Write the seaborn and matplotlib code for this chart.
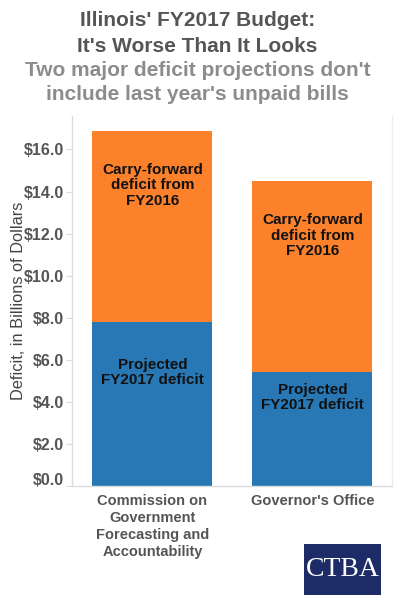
import seaborn as sns
import matplotlib.pyplot as plt
import matplotlib.transforms as mtransforms
import pandas as pd
from matplotlib.patches import Rectangle

sns.set_style("white")
plt.rcParams['font.family'] = ['Liberation Sans', 'DejaVu Sans']

# values in billions of dollars
sources = ["Commission on\nGovernment\nForecasting and\nAccountability", "Governor's Office"]
projected = [7.8, 5.4]
carry_forward = [9.1, 9.1]
y_ticks = [0, 2, 4, 6, 8, 10, 12, 14, 16]

BLUE = "#2778b5"
ORANGE = "#fd812b"
DARK = "#555555"
LIGHT = "#8c8c8c"
AXIS = "#dcdcdc"

df = pd.DataFrame({"source": sources, "projected": projected, "carry": carry_forward})
df["total"] = df["projected"] + df["carry"]

fig = plt.figure(figsize=(3.95, 6), dpi=100)
ax = fig.add_axes([0.1835, 0.19, 0.81, 0.617])

# stacked bars: full total in orange, projected part drawn over it in blue
sns.barplot(data=df, x="source", y="total", color=ORANGE, width=0.75,
            saturation=1, ax=ax, edgecolor="none")
sns.barplot(data=df, x="source", y="projected", color=BLUE, width=0.75,
            saturation=1, ax=ax, edgecolor="none")

for i, row in df.iterrows():
    ax.text(i, row["total"] - 2.6, "Carry-forward\ndeficit from\nFY2016", ha="center", va="center",
            fontsize=11, fontweight="bold", color="#111111", linespacing=1.15)
    ax.text(i, row["projected"] / 2 + 1.5, "Projected\nFY2017 deficit", ha="center", va="center",
            fontsize=11, fontweight="bold", color="#111111", linespacing=1.15)

ax.set_xlim(-0.5, 1.5)
ax.set_ylim(0, 17.6)
ax.set_yticks(y_ticks)
ax.set_yticklabels(["${:.1f}".format(v) for v in y_ticks])
ax.set_xlabel("")
ax.set_ylabel("Deficit, in Billions of Dollars", fontsize=11.8, color="#444444", labelpad=-1.5)

for lbl in ax.get_yticklabels():
    lbl.set_fontweight("bold")
    lbl.set_color(DARK)
    lbl.set_fontsize(11.5)
for lbl in ax.get_xticklabels():
    lbl.set_fontweight("bold")
    lbl.set_color(DARK)
    lbl.set_fontsize(10.5)
    lbl.set_linespacing(1.25)
    lbl.set_verticalalignment("top")
ax.tick_params(axis="y", length=4, color=AXIS, pad=2, left=True)
ax.tick_params(axis="x", length=0, pad=6)

# the $0.0 label sits a little above its tick, as in the original
zero_lbl = ax.get_yticklabels()[0]
zero_lbl.set_transform(zero_lbl.get_transform() +
                       mtransforms.ScaledTranslation(0, 7 / 100, fig.dpi_scale_trans))

sns.despine(ax=ax, top=True, right=False)
for side in ["left", "bottom", "right"]:
    ax.spines[side].set_color(AXIS)
    ax.spines[side].set_linewidth(1)
ax.spines["right"].set_color("#eeeeee")

# titles
fig.text(0.5, 1 - 20 / 600, "Illinois' FY2017 Budget:", ha="center", va="center",
         fontsize=15, fontweight="bold", color=DARK)
fig.text(0.5, 1 - 46 / 600, "It's Worse Than It Looks", ha="center", va="center",
         fontsize=15, fontweight="bold", color=DARK)
fig.text(0.5, 1 - 71 / 600, "Two major deficit projections don't", ha="center", va="center",
         fontsize=15, fontweight="bold", color=LIGHT)
fig.text(0.5, 1 - 95 / 600, "include last year's unpaid bills", ha="center", va="center",
         fontsize=15, fontweight="bold", color=LIGHT)

# CTBA logo box
fig.patches.append(Rectangle((304 / 395, 1 - 595 / 600), 77 / 395, 51 / 600,
                             transform=fig.transFigure, facecolor="#1d2b66", edgecolor="none"))
fig.text((304 + 38.5) / 395, 1 - 570 / 600, "CTBA", ha="center", va="center",
         fontsize=20, color="white", family="Liberation Serif")

fig.savefig("out.png", dpi=100)
